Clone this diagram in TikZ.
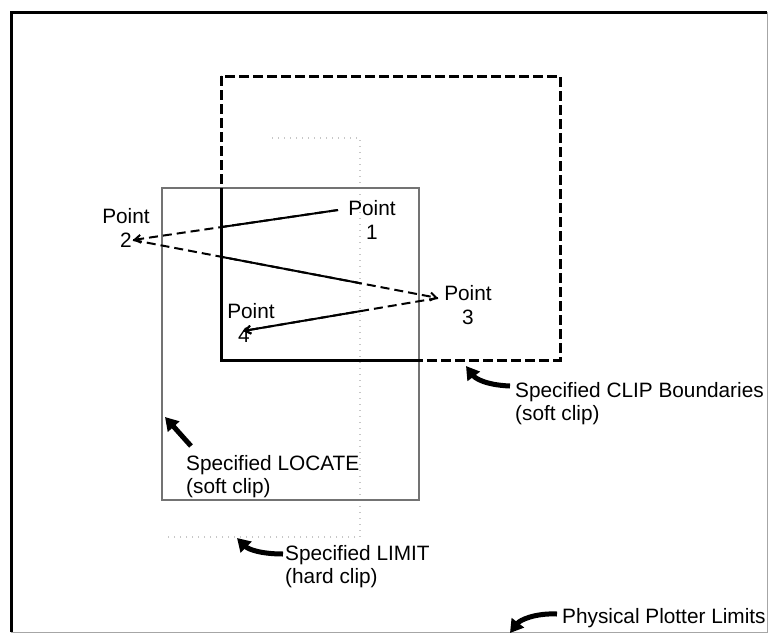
\documentclass[tikz,border=0pt]{standalone}
\usepackage{fontspec}
\setmainfont{Liberation Sans}
\usetikzlibrary{arrows.meta,positioning}
\begin{document}
\begin{tikzpicture}[x=1pt,y=-1pt,>={Straight Barb[length=6pt,width=8pt]},
        every node/.style={font=\fontsize{20.8}{23.5}\selectfont, inner sep=0pt},
        clipline/.style={line width=3pt},
        clipdash/.style={dash pattern=on 10pt off 4pt},
        plotline/.style={line width=2pt},
        plotdash/.style={dash pattern=on 9pt off 5pt},
        locatebox/.style={draw=black!55, line width=2.5pt},
        limitline/.style={draw=black!22, dash pattern=on 1pt off 5pt, line width=1.2pt},
        callout/.style={line width=5pt, -{Triangle[length=13pt,width=15pt]}}]
        \useasboundingbox (0,0) rectangle (769,635);

        \draw[line width=3pt] (11,632) -- (11,12) -- (767,12);
        \draw[black!35, line width=1pt] (11,632) -- (767,632) -- (767,12);

        \draw[limitline] (272,138) -- (360,138) -- (360,537) -- (165,537);
        \draw[locatebox] (162,188) rectangle (419,500);

        \draw[clipline, clipdash] (221,76) rectangle (560,360);
        \begin{scope}
            \clip (162,188) rectangle (419,500);
            \draw[clipline] (221,76) rectangle (560,360);
        \end{scope}

        \coordinate (p1) at (338,210);
        \coordinate (p2) at (133,240);
        \coordinate (p3) at (438,298);
        \coordinate (p4) at (243,331);

        \draw[plotline, plotdash, ->] (p1) -- (p2);
        \draw[plotline, plotdash, ->] (p2) -- (p3);
        \draw[plotline, plotdash, ->] (p3) -- (p4);
        \begin{scope}
            \clip (221,188) rectangle (360,360);
            \draw[plotline] (p1) -- (p2);
            \draw[plotline] (p2) -- (p3);
            \draw[plotline, ->] (p3) -- (p4);
        \end{scope}

        \node (pt1) [align=center] at (372,220) {Point\\1};
        \node (pt2) [align=center] at (126,228) {Point\\2};
        \node (pt3) [align=center] at (468,305) {Point\\3};
        \node (pt4) [align=center] at (251,323) {Point\\4\hspace*{14pt}};

        \node (cliptxt) [anchor=north west, align=left] at (515,382) {Specified CLIP Boundaries\\(soft clip)};
        \node (loctxt) [anchor=north west, align=left] at (186,455) {Specified LOCATE\\(soft clip)};
        \node (limtxt) [anchor=north west, align=left] at (285,545) {Specified LIMIT\\(hard clip)};
        \node (phystxt) [anchor=north west] at (562,608) {Physical Plotter Limits};

        \draw[callout] (cliptxt.north west) ++(-5,4) .. controls (485,385) and (475,378) .. (466,366);
        \draw[callout] (loctxt.north west) ++(5,-9) .. controls (182,436) and (174,427) .. (165,417);
        \draw[callout] (limtxt.north west) ++(-2,9) .. controls (260,554) and (248,549) .. (237,538);
        \draw[callout] (phystxt.north west) ++(-5,6) .. controls (535,613) and (520,620) .. (510,633);
\end{tikzpicture}
\end{document}
